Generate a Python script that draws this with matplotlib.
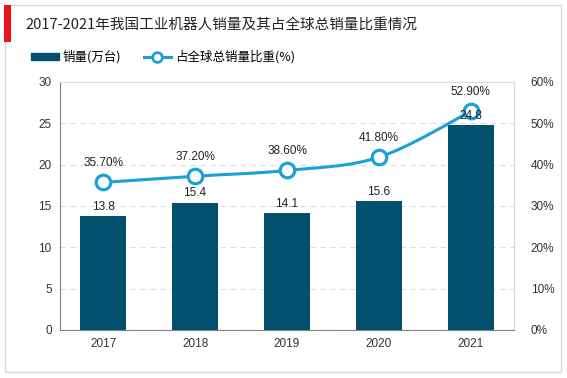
import matplotlib.pyplot as plt
from matplotlib.patches import Rectangle, PathPatch
from matplotlib.path import Path
from matplotlib.lines import Line2D

plt.rcParams['font.family'] = ['Noto Sans CJK SC', 'DejaVu Sans']

years = ['2017', '2018', '2019', '2020', '2021']
sales = [13.8, 15.4, 14.1, 15.6, 24.8]          # 万台
share = [35.7, 37.2, 38.6, 41.8, 52.9]          # %

bar_color = '#02506E'
line_color = '#1BA1D6'
num_font = ['Liberation Sans', 'DejaVu Sans']

fig = plt.figure(figsize=(5.67, 3.78), dpi=100)

# outer frame and red marker
fig.patches.append(Rectangle((5 / 567, 6 / 378), 556 / 567, 367 / 378, transform=fig.transFigure,
                             fill=False, edgecolor='#D9D9D9', linewidth=1))
fig.patches.append(Rectangle((4 / 567, 1 - 42 / 378), 7 / 567, 37 / 378, transform=fig.transFigure,
                             facecolor='#E8141B', edgecolor='none'))
fig.text(25 / 567, 1 - 25 / 378, '2017-2021年我国工业机器人销量及其占全球总销量比重情况',
         fontsize=10.5, va='center', ha='left', color='#222222')

ax = fig.add_axes([60 / 567, 1 - 330 / 378, 454 / 567, 248 / 378])
x = list(range(len(years)))
ax.bar(x, sales, width=0.5, color=bar_color, zorder=2)
ax.set_ylim(0, 30)
ax.set_yticks(range(0, 31, 5))
ax.set_xlim(-0.47, 4.47)
ax.set_xticks(x)
ax.set_xticklabels(years, family=num_font)
for t in ax.get_yticklabels():
    t.set_family(num_font)
ax.grid(axis='y', linestyle=(0, (5, 4)), color='#DDDDDD', linewidth=0.8, zorder=0)
for s in ['top', 'right']:
    ax.spines[s].set_color('#D9D9D9')
for s in ['left', 'bottom']:
    ax.spines[s].set_color('#808080')
ax.tick_params(length=0, labelsize=8.5, colors='#333333', pad=6)

ax2 = ax.twinx()
ax2.set_ylim(0, 60)
ax2.set_yticks(range(0, 61, 10))
ax2.set_yticklabels([f'{t}%' for t in range(0, 61, 10)], family=num_font)
ax2.tick_params(length=0, labelsize=8.5, colors='#333333', pad=12)
for s in ax2.spines.values():
    s.set_visible(False)

# smooth curve through the points (cubic Bezier segments)
pts = list(zip(x, share))
verts = [pts[0]]
codes = [Path.MOVETO]
for i in range(len(pts) - 1):
    p0 = pts[i - 1] if i > 0 else pts[i]
    p1, p2 = pts[i], pts[i + 1]
    p3 = pts[i + 2] if i + 2 < len(pts) else pts[i + 1]
    t = 1 / 6
    c1 = (p1[0] + (p2[0] - p0[0]) * t, p1[1] + (p2[1] - p0[1]) * t)
    c2 = (p2[0] - (p3[0] - p1[0]) * t, p2[1] - (p3[1] - p1[1]) * t)
    verts += [c1, c2, p2]
    codes += [Path.CURVE4] * 3
ax2.add_patch(PathPatch(Path(verts, codes), fill=False, edgecolor=line_color, linewidth=2.2, zorder=3))
ax2.plot(x, share, linestyle='none', marker='o', markersize=10.5, markerfacecolor='white',
         markeredgecolor=line_color, markeredgewidth=2.3, zorder=4)
for xi, v in zip(x, share):
    ax2.text(xi, v + 3.2, f'{v:.2f}%', ha='center', va='bottom', fontsize=8.5, color='#222222',
             family=num_font)
# bar labels drawn on top of the line layer (in bar data coords)
for xi, v in zip(x, sales):
    ax2.text(xi, v + 0.4, f'{v}', ha='center', va='bottom', fontsize=8.5, color='#222222',
             family=num_font, zorder=6, transform=ax.transData)

# legend
handles = [Rectangle((0, 0), 1, 1, color=bar_color),
           Line2D([0], [0], color=line_color, linewidth=2.2, marker='o', markersize=7,
                  markerfacecolor='white', markeredgewidth=2)]
fig.legend(handles, ['销量(万台)', '占全球总销量比重(%)'], loc='center left',
           bbox_to_anchor=(20 / 567, 1 - 57 / 378), ncol=2, frameon=False, fontsize=9,
           handlelength=2.2, handleheight=0.5, columnspacing=1.8, handletextpad=0.3)

fig.savefig('out.png', dpi=100)
